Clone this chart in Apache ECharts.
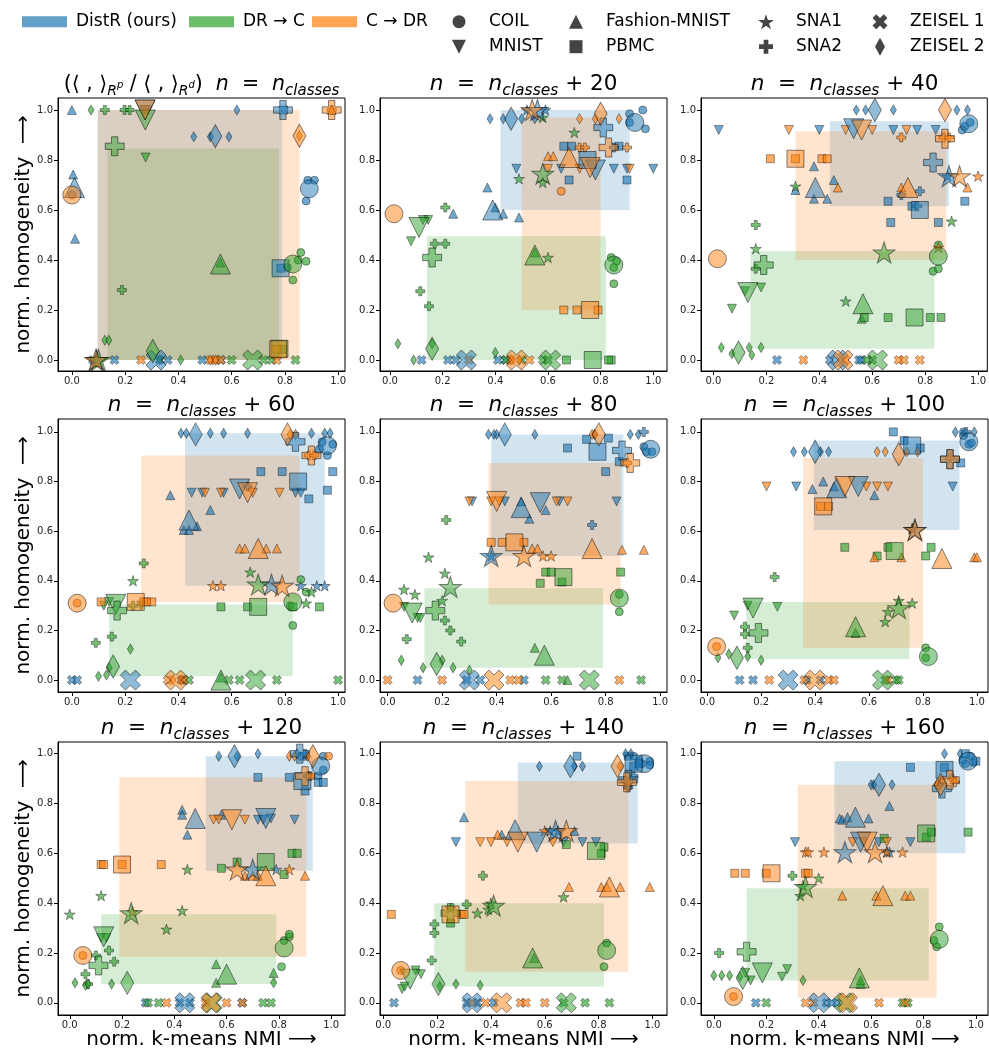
<!DOCTYPE html>
<html><head><meta charset="utf-8">
<script src="https://cdn.jsdelivr.net/npm/echarts@6/dist/echarts.min.js"></script>
<style>html,body{margin:0;padding:0;background:#fff}#c{width:989px;height:1055px}</style>
</head><body><div id="c"></div>
<script>
// ---------------- DATA ----------------
const METHODS = ['DistR (ours)', 'DR \u2192 C', 'C \u2192 DR'];
const DATASET_NAMES = {C:'COIL', M:'MNIST', F:'Fashion-MNIST', P:'PBMC', S1:'SNA1', S2:'SNA2', Z1:'ZEISEL 1', Z2:'ZEISEL 2'};
const TICKS = [0, 0.2, 0.4, 0.6, 0.8, 1.0];
const TITLE_SUFFIX = ['', '+ 20', '+ 40', '+ 60', '+ 80', '+ 100', '+ 120', '+ 140', '+ 160'];
const X_LIMITS = [[-0.052,1.026],[-0.038,1.052],[-0.047,1.035],[-0.052,1.026],[-0.028,1.025],[-0.023,1.041],[-0.045,1.053],[-0.012,1.054],[-0.049,1.046]];
const Y_LIMITS = [[-0.044,1.048],[-0.044,1.048],[-0.044,1.048],[-0.048,1.052],[-0.048,1.052],[-0.048,1.052],[-0.049,1.047],[-0.049,1.047],[-0.049,1.047]];

// rectangles [x0, x1, y0, y1] for DistR, DR->C, C->DR
const RECTS_0 = [[0.097,0.79,0.0,1.0],[0.134,0.778,0.0,0.846],[0.097,0.855,0.0,1.0]];
const RECTS_1 = [[0.42,0.91,0.60,1.0],[0.14,0.82,0.0,0.495],[0.50,0.80,0.20,0.97]];
const RECTS_2 = [[0.44,0.89,0.615,0.955],[0.14,0.835,0.045,0.435],[0.31,0.88,0.40,0.915]];
const RECTS_3 = [[0.425,0.95,0.38,0.995],[0.14,0.83,0.015,0.305],[0.26,0.855,0.315,0.905]];
const RECTS_4 = [[0.38,0.865,0.50,0.99],[0.135,0.79,0.05,0.37],[0.37,0.855,0.305,0.875]];
const RECTS_5 = [[0.395,0.935,0.605,0.965],[0.145,0.75,0.085,0.315],[0.355,0.80,0.13,0.895]];
const RECTS_6 = [[0.52,0.93,0.53,0.99],[0.12,0.79,0.075,0.355],[0.19,0.905,0.185,0.905]];
const RECTS_7 = [[0.50,0.945,0.64,0.965],[0.19,0.82,0.065,0.40],[0.305,0.91,0.125,0.89]];
const RECTS_8 = [[0.46,0.96,0.60,0.97],[0.125,0.82,0.09,0.46],[0.32,0.85,0.02,0.875]];

// points [method, dataset, x, y]
const BIG_0 = [[0,'C',0.892,0.685],[0,'F',0.01,0.69],[0,'M',0.275,1.0],[0,'P',0.784,0.367],[0,'S1',0.093,0.0],[0,'S2',0.793,1.0],[0,'Z1',0.316,0.0],[0,'Z2',0.539,0.895],
 [1,'C',0.83,0.384],[1,'F',0.558,0.384],[1,'M',0.276,0.96],[1,'P',0.78,0.045],[1,'S1',0.10,0.0],[1,'S2',0.161,0.855],[1,'Z1',0.679,0.0],[1,'Z2',0.304,0.036],
 [2,'C',0.0,0.66],[2,'M',0.275,1.0],[2,'P',0.775,0.043],[2,'S1',0.09,0.0],[2,'S2',0.976,1.0],[2,'Z2',0.855,0.897]];
const SMALL_0 = [[0,'F',0.0,1.0],[0,'F',0.005,0.742],[0,'F',0.012,0.485],[0,'C',0.886,0.719],[0,'C',0.911,0.719],[0,'C',0.880,0.636],[0,'Z2',0.458,0.893],[0,'Z2',0.52,0.893],[0,'Z2',0.59,0.893],[0,'Z2',0.62,1.0],[0,'M',0.27,1.0],[0,'M',0.285,1.0],[0,'Z1',0.08,0.0],[0,'Z1',0.16,0.0],[0,'Z1',0.33,0.0],[0,'Z1',0.36,0.0],[0,'Z1',0.49,0.0],[0,'Z1',0.56,0.0],[0,'P',0.795,1.0],[0,'P',0.785,0.367],[0,'S1',0.09,0.0],
 [1,'C',0.86,0.43],[1,'C',0.85,0.40],[1,'C',0.88,0.395],[1,'C',0.83,0.32],[1,'C',0.81,0.37],[1,'S2',0.124,1.0],[1,'S2',0.198,1.0],[1,'S2',0.217,1.0],[1,'S2',0.188,0.28],[1,'Z2',0.072,1.0],[1,'Z2',0.124,0.079],[1,'Z2',0.139,0.079],[1,'Z2',0.409,0.0],[1,'Z2',0.33,0.0],[1,'M',0.277,0.81],[1,'Z1',0.72,0.0],[1,'Z1',0.75,0.0],[1,'Z1',0.84,0.0],[1,'Z1',0.6,0.0],[1,'F',0.558,0.39],[1,'P',0.79,0.043],
 [2,'Z1',0.26,0.0],[2,'Z1',0.52,0.0],[2,'Z1',0.54,0.0],[2,'Z1',0.56,0.0],[2,'Z1',0.77,0.0],[2,'Z2',0.855,0.897],[2,'S2',0.976,1.0],[2,'P',0.77,0.043],[2,'C',0.0,0.66],[2,'Z2',0.52,0.0],[2,'Z2',0.54,0.0],[2,'M',0.275,1.0],[2,'F',0.976,1.0]];

const BIG_1 = [[0,'C',0.93,0.95],[0,'F',0.39,0.60],[0,'M',0.78,0.76],[0,'P',0.75,0.80],[0,'S1',0.56,1.0],[0,'S2',0.81,0.93],[0,'Z1',0.29,0.0],[0,'Z2',0.46,0.965],
 [1,'C',0.85,0.38],[1,'F',0.55,0.42],[1,'M',0.11,0.53],[1,'P',0.77,0.0],[1,'S1',0.58,0.745],[1,'S2',0.16,0.41],[1,'Z1',0.61,0.0],[1,'Z2',0.16,0.045],
 [2,'C',0.015,0.585],[2,'F',0.68,0.81],[2,'M',0.76,0.77],[2,'P',0.76,0.20],[2,'S1',0.54,1.0],[2,'S2',0.83,0.85],[2,'Z1',0.48,0.0],[2,'Z2',0.80,0.985]];
const SMALL_1 = [[0,'Z2',0.38,0.965],[0,'Z2',0.43,0.965],[0,'Z2',0.5,0.965],[0,'Z2',0.55,0.965],[0,'C',0.91,0.985],[0,'C',0.96,1.0],[0,'C',0.97,0.925],[0,'C',0.91,0.95],[0,'F',0.37,0.69],[0,'F',0.24,0.585],[0,'F',0.43,0.585],[0,'F',0.49,0.57],[0,'F',0.40,0.61],[0,'M',0.48,0.765],[0,'M',0.85,0.765],[0,'M',0.90,0.765],[0,'M',1.0,0.765],[0,'M',0.65,0.765],[0,'P',0.66,0.855],[0,'P',0.69,0.855],[0,'P',0.68,0.72],[0,'P',0.90,0.72],[0,'P',0.87,0.855],[0,'Z1',0.12,0],[0,'Z1',0.22,0],[0,'Z1',0.25,0],[0,'Z1',0.41,0],[0,'Z1',0.44,0],[0,'S1',0.52,1.0],[0,'S1',0.59,1.0],[0,'S2',0.85,0.85],
 [1,'C',0.84,0.41],[1,'C',0.86,0.395],[1,'C',0.85,0.305],[1,'C',0.85,0.37],[1,'M',0.08,0.475],[1,'M',0.145,0.56],[1,'M',0.125,0.56],[1,'S2',0.17,0.465],[1,'S2',0.21,0.465],[1,'S2',0.115,0.275],[1,'S2',0.148,0.215],[1,'S2',0.21,0.61],[1,'Z2',0.03,0.065],[1,'Z2',0.09,0.0],[1,'Z2',0.16,0.065],[1,'Z2',0.40,0.03],[1,'S1',0.6,0.41],[1,'S1',0.7,0.91],[1,'S1',0.58,0.71],[1,'S1',0.49,0.725],[1,'S1',0.58,0.97],[1,'P',0.67,0.0],[1,'P',0.84,0.0],[1,'P',0.83,0.0],[1,'Z1',0.58,0],[1,'Z1',0.6,0],[1,'Z1',0.44,0],[1,'Z1',0.5,0],[1,'F',0.55,0.43],
 [2,'F',0.6,0.815],[2,'F',0.62,0.815],[2,'P',0.66,0.2],[2,'P',0.71,0.2],[2,'P',0.79,0.2],[2,'Z2',0.72,0.965],[2,'Z2',0.78,0.965],[2,'Z2',0.87,0.965],[2,'S2',0.72,0.85],[2,'S2',0.74,0.85],[2,'S2',0.9,0.85],[2,'M',0.6,0.765],[2,'M',0.72,0.765],[2,'M',0.91,0.765],[2,'Z1',0.3,0],[2,'Z1',0.46,0],[2,'Z1',0.53,0],[2,'Z2',0.46,0.0],[2,'Z2',0.49,0.0],[2,'C',0.65,0.675]];

const BIG_2 = [[0,'C',0.965,0.945],[0,'F',0.385,0.69],[0,'M',0.53,0.925],[0,'P',0.78,0.60],[0,'S1',0.89,0.735],[0,'S2',0.83,0.79],[0,'Z1',0.47,0.0],[0,'Z2',0.61,1.0],
 [1,'C',0.85,0.415],[1,'F',0.565,0.225],[1,'M',0.13,0.27],[1,'P',0.76,0.17],[1,'S1',0.645,0.43],[1,'S2',0.19,0.38],[1,'Z1',0.62,0.0],[1,'Z2',0.095,0.03],
 [2,'C',0.015,0.405],[2,'F',0.735,0.69],[2,'M',0.56,0.92],[2,'P',0.31,0.805],[2,'S1',0.93,0.735],[2,'S2',0.875,0.885],[2,'Z1',0.49,0.0],[2,'Z2',0.875,1.0]];
const SMALL_2 = [[0,'Z2',0.54,1.0],[0,'Z2',0.575,1.0],[0,'Z2',0.68,1.0],[0,'Z2',0.92,1.0],[0,'Z2',0.96,1.0],[0,'M',0.02,0.92],[0,'M',0.40,0.92],[0,'M',0.68,0.92],[0,'M',0.77,0.92],[0,'M',0.84,0.92],[0,'F',0.38,0.775],[0,'F',0.455,0.72],[0,'F',0.38,0.645],[0,'F',0.43,0.645],[0,'F',0.31,0.68],[0,'P',0.66,0.635],[0,'P',0.67,0.55],[0,'P',0.75,0.615],[0,'P',0.85,0.55],[0,'P',0.95,0.635],[0,'C',0.95,0.935],[0,'C',0.94,0.92],[0,'C',0.97,0.95],[0,'S2',0.71,0.66],[0,'S2',0.78,0.675],[0,'S2',0.77,0.615],[0,'Z1',0.24,0],[0,'Z1',0.44,0],[0,'Z1',0.55,0],[0,'Z1',0.56,0],[0,'S1',0.885,0.735],
 [1,'C',0.83,0.355],[1,'C',0.85,0.365],[1,'C',0.85,0.46],[1,'M',0.07,0.205],[1,'M',0.18,0.29],[1,'M',0.12,0.275],[1,'S2',0.16,0.54],[1,'S2',0.16,0.365],[1,'Z2',0.03,0.05],[1,'Z2',0.07,0.025],[1,'Z2',0.135,0.05],[1,'Z2',0.145,0.02],[1,'Z2',0.18,0.05],[1,'S1',0.9,0.555],[1,'S1',0.16,0.445],[1,'S1',0.50,0.235],[1,'S1',0.31,0.695],[1,'F',0.56,0.165],[1,'P',0.57,0.17],[1,'P',0.66,0.17],[1,'P',0.82,0.17],[1,'P',0.86,0.17],[1,'Z1',0.58,0],[1,'Z1',0.60,0],
 [2,'P',0.215,0.805],[2,'P',0.41,0.805],[2,'P',0.43,0.805],[2,'P',0.31,0.805],[2,'M',0.285,0.92],[2,'M',0.50,0.92],[2,'M',0.60,0.92],[2,'M',0.73,0.92],[2,'F',0.47,0.69],[2,'F',0.96,0.69],[2,'F',0.71,0.69],[2,'S2',0.71,0.89],[2,'S2',0.87,0.89],[2,'S2',0.89,0.89],[2,'S1',1.0,0.735],[2,'S1',0.85,0.45],[2,'Z1',0.34,0],[2,'Z1',0.50,0],[2,'Z1',0.70,0],[2,'Z1',0.72,0],[2,'Z1',0.78,0],[2,'Z2',0.48,0.0]];

const BIG_3 = [[0,'C',0.96,0.945],[0,'F',0.44,0.645],[0,'M',0.63,0.77],[0,'P',0.85,0.80],[0,'S1',0.75,0.385],[0,'S2',0.84,0.96],[0,'Z1',0.22,0.0],[0,'Z2',0.465,0.99],
 [1,'C',0.83,0.315],[1,'F',0.56,0.0],[1,'M',0.165,0.305],[1,'P',0.70,0.295],[1,'S1',0.70,0.385],[1,'S2',0.17,0.28],[1,'Z1',0.69,0.0],[1,'Z2',0.155,0.055],
 [2,'C',0.02,0.31],[2,'F',0.70,0.53],[2,'M',0.66,0.755],[2,'P',0.24,0.315],[2,'S1',0.79,0.38],[2,'S2',0.90,0.905],[2,'Z1',0.39,0.0],[2,'Z2',0.81,0.99]];
const SMALL_3 = [[0,'Z2',0.41,0.995],[0,'Z2',0.43,0.995],[0,'Z2',0.52,0.995],[0,'Z2',0.57,0.995],[0,'Z2',0.66,0.995],[0,'Z2',0.90,0.995],[0,'Z2',0.95,0.995],[0,'Z2',0.97,0.995],[0,'P',0.71,0.84],[0,'P',0.79,0.84],[0,'P',0.98,0.84],[0,'P',0.89,0.73],[0,'P',0.96,0.765],[0,'M',0.45,0.755],[0,'M',0.49,0.755],[0,'M',0.57,0.755],[0,'M',0.84,0.755],[0,'M',0.86,0.755],[0,'F',0.52,0.685],[0,'F',0.47,0.62],[0,'F',0.42,0.605],[0,'F',0.37,0.745],[0,'F',0.44,0.605],[0,'C',0.93,0.93],[0,'C',0.96,0.905],[0,'C',0.98,0.95],[0,'C',0.94,0.96],[0,'Z1',0.0,0],[0,'Z1',0.02,0],[0,'Z1',0.41,0],[0,'Z1',0.42,0],[0,'S1',0.86,0.38],[0,'S1',0.95,0.38],[0,'S1',0.92,0.38],[0,'S2',0.66,0.78],
 [1,'C',0.86,0.405],[1,'C',0.88,0.355],[1,'C',0.83,0.22],[1,'C',0.82,0.30],[1,'P',0.56,0.295],[1,'P',0.66,0.295],[1,'P',0.83,0.295],[1,'P',0.93,0.295],[1,'M',0.12,0.30],[1,'M',0.26,0.30],[1,'M',0.14,0.315],[1,'S2',0.09,0.15],[1,'S2',0.15,0.175],[1,'S2',0.23,0.30],[1,'S2',0.27,0.47],[1,'Z2',0.10,0.015],[1,'Z2',0.13,0.02],[1,'Z2',0.14,0.05],[1,'Z2',0.22,0.125],[1,'S1',0.23,0.40],[1,'S1',0.67,0.435],[1,'S1',0.88,0.31],[1,'S1',0.90,0.355],[1,'Z1',0.44,0],[1,'Z1',0.59,0],[1,'Z1',0.63,0],[1,'Z1',0.77,0],[1,'Z1',1.0,0],[1,'F',0.56,0.01],
 [2,'P',0.11,0.315],[2,'P',0.27,0.315],[2,'P',0.30,0.315],[2,'P',0.28,0.315],[2,'F',0.63,0.53],[2,'F',0.65,0.53],[2,'F',0.73,0.53],[2,'F',0.77,0.53],[2,'M',0.50,0.755],[2,'M',0.56,0.755],[2,'M',0.68,0.755],[2,'M',0.78,0.755],[2,'S2',0.89,0.905],[2,'S2',0.91,0.905],[2,'Z2',0.82,0.99],[2,'Z2',0.84,0.99],[2,'Z2',0.38,0.0],[2,'Z2',0.41,0.0],[2,'S1',0.53,0.38],[2,'S1',0.56,0.38],[2,'Z1',0.36,0],[2,'Z1',0.42,0],[2,'C',0.02,0.31]];

const BIG_4 = [[0,'C',0.965,0.93],[0,'F',0.49,0.695],[0,'M',0.56,0.715],[0,'P',0.77,0.92],[0,'S1',0.38,0.50],[0,'S2',0.86,0.925],[0,'Z1',0.30,0.0],[0,'Z2',0.43,0.99],
 [1,'C',0.85,0.33],[1,'F',0.575,0.10],[1,'M',0.09,0.27],[1,'P',0.645,0.415],[1,'S1',0.23,0.375],[1,'S2',0.175,0.28],[1,'Z1',0.74,0.0],[1,'Z2',0.18,0.065],
 [2,'C',0.02,0.31],[2,'F',0.75,0.53],[2,'M',0.40,0.72],[2,'P',0.465,0.555],[2,'S1',0.50,0.50],[2,'S2',0.89,0.875],[2,'Z1',0.39,0.0],[2,'Z2',0.775,0.99]];
const SMALL_4 = [[0,'Z2',0.37,0.99],[0,'Z2',0.39,0.99],[0,'Z2',0.40,0.99],[0,'Z2',0.54,0.99],[0,'Z2',0.76,0.99],[0,'Z2',0.89,0.99],[0,'Z2',0.92,0.99],[0,'P',0.66,0.935],[0,'P',0.73,0.97],[0,'P',0.81,0.975],[0,'P',0.85,0.88],[0,'P',0.80,0.84],[0,'C',0.94,0.94],[0,'C',0.95,0.92],[0,'C',0.97,0.92],[0,'M',0.31,0.72],[0,'M',0.43,0.72],[0,'M',0.63,0.72],[0,'M',0.84,0.72],[0,'F',0.52,0.65],[0,'F',0.58,0.685],[0,'F',0.49,0.72],[0,'S2',0.75,0.625],[0,'Z1',0.11,0],[0,'Z1',0.29,0],[0,'Z1',0.34,0],[0,'Z1',0.50,0],[0,'S1',0.38,0.50],[0,'S2',0.94,1.0],
 [1,'P',0.56,0.39],[1,'P',0.58,0.435],[1,'P',0.60,0.435],[1,'P',0.64,0.395],[1,'P',0.855,0.435],[1,'C',0.85,0.275],[1,'C',0.85,0.345],[1,'S2',0.07,0.165],[1,'S2',0.21,0.24],[1,'S2',0.215,0.645],[1,'S2',0.23,0.20],[1,'S2',0.27,0.155],[1,'Z2',0.05,0.08],[1,'Z2',0.13,0.05],[1,'Z2',0.20,0.08],[1,'Z2',0.24,0.05],[1,'Z2',0.30,0.04],[1,'S1',0.06,0.365],[1,'S1',0.10,0.345],[1,'S1',0.15,0.495],[1,'S1',0.21,0.43],[1,'S1',0.20,0.32],[1,'M',0.06,0.295],[1,'M',0.11,0.25],[1,'M',0.12,0.25],[1,'F',0.54,0.13],[1,'F',0.66,0.0],[1,'Z1',0.58,0],[1,'Z1',0.64,0],[1,'Z1',0.93,0],
 [2,'P',0.38,0.555],[2,'P',0.42,0.555],[2,'P',0.50,0.555],[2,'F',0.53,0.53],[2,'F',0.55,0.53],[2,'F',0.86,0.525],[2,'F',0.94,0.525],[2,'M',0.30,0.72],[2,'M',0.38,0.72],[2,'M',0.41,0.72],[2,'M',0.62,0.72],[2,'M',0.66,0.72],[2,'S1',0.57,0.50],[2,'S1',0.60,0.50],[2,'Z2',0.75,0.99],[2,'Z2',0.76,0.99],[2,'Z1',0.0,0],[2,'Z1',0.20,0],[2,'Z1',0.45,0],[2,'Z1',0.48,0],[2,'Z1',0.85,0],[2,'S2',0.88,0.875]];

const BIG_5 = [[0,'C',0.97,0.96],[0,'F',0.48,0.775],[0,'M',0.56,0.78],[0,'P',0.76,0.945],[0,'S1',0.77,0.605],[0,'S2',0.90,0.89],[0,'Z1',0.30,0.0],[0,'Z2',0.40,0.92],
 [1,'C',0.82,0.095],[1,'F',0.55,0.215],[1,'M',0.17,0.29],[1,'P',0.695,0.52],[1,'S1',0.71,0.29],[1,'S2',0.19,0.19],[1,'Z1',0.65,0.0],[1,'Z2',0.11,0.09],
 [2,'C',0.035,0.135],[2,'F',0.87,0.49],[2,'M',0.51,0.78],[2,'P',0.43,0.70],[2,'S1',0.77,0.605],[2,'S2',0.90,0.89],[2,'Z1',0.40,0.0],[2,'Z2',0.71,0.91]];
const SMALL_5 = [[0,'C',0.95,0.985],[0,'C',0.97,0.95],[0,'C',0.98,0.955],[0,'C',0.95,1.0],[0,'Z2',0.32,0.92],[0,'Z2',0.36,0.92],[0,'Z2',0.42,0.92],[0,'Z2',0.45,0.92],[0,'Z2',0.92,1.0],[0,'Z2',0.99,1.0],[0,'P',0.69,1.0],[0,'P',0.73,0.965],[0,'P',0.79,0.935],[0,'P',0.94,0.875],[0,'M',0.33,0.78],[0,'M',0.91,0.78],[0,'F',0.39,0.77],[0,'F',0.43,0.80],[0,'F',0.62,0.745],[0,'F',0.47,0.78],[0,'Z1',0.12,0],[0,'Z1',0.17,0],[0,'Z1',0.37,0],[0,'Z1',0.42,0],[0,'S2',0.96,1.0],[0,'S1',0.76,0.61],
 [1,'P',0.51,0.535],[1,'P',0.67,0.535],[1,'P',0.83,0.535],[1,'P',0.81,0.50],[1,'P',0.63,0.50],[1,'C',0.81,0.13],[1,'C',0.81,0.09],[1,'M',0.10,0.26],[1,'M',0.15,0.30],[1,'M',0.26,0.295],[1,'S2',0.14,0.215],[1,'S2',0.14,0.185],[1,'S2',0.15,0.13],[1,'S2',0.25,0.415],[1,'Z2',0.04,0.09],[1,'Z2',0.08,0.105],[1,'Z2',0.15,0.095],[1,'Z2',0.20,0.08],[1,'S1',0.66,0.235],[1,'S1',0.67,0.275],[1,'S1',0.71,0.32],[1,'S1',0.76,0.31],[1,'F',0.55,0.19],[1,'Z1',0.66,0],[1,'Z1',0.70,0],[1,'Z1',0.71,0],
 [2,'P',0.42,0.70],[2,'P',0.45,0.70],[2,'F',0.62,0.495],[2,'F',0.72,0.495],[2,'F',0.99,0.495],[2,'F',1.0,0.495],[2,'M',0.22,0.78],[2,'M',0.59,0.78],[2,'M',0.63,0.78],[2,'M',0.67,0.78],[2,'Z2',0.63,0.92],[2,'Z2',0.66,0.92],[2,'Z2',0.74,0.92],[2,'Z2',0.78,0.92],[2,'S1',0.76,0.61],[2,'Z1',0.23,0],[2,'Z1',0.36,0],[2,'Z1',0.45,0],[2,'Z1',0.47,0],[2,'Z1',0.67,0],[2,'S2',0.90,0.895],[2,'C',0.035,0.135]];

const BIG_6 = [[0,'C',0.96,0.95],[0,'F',0.48,0.74],[0,'M',0.75,0.74],[0,'P',0.89,0.89],[0,'S1',0.70,0.535],[0,'S2',0.88,1.0],[0,'Z1',0.44,0.0],[0,'Z2',0.63,0.99],
 [1,'C',0.82,0.22],[1,'F',0.60,0.115],[1,'M',0.13,0.265],[1,'P',0.75,0.565],[1,'S1',0.235,0.36],[1,'S2',0.11,0.15],[1,'Z1',0.545,0.0],[1,'Z2',0.22,0.08],
 [2,'C',0.05,0.19],[2,'F',0.75,0.51],[2,'M',0.62,0.735],[2,'P',0.20,0.555],[2,'S1',0.64,0.535],[2,'S2',0.90,0.91],[2,'Z1',0.54,0.0],[2,'Z2',0.93,0.99]];
const SMALL_6 = [[0,'Z2',0.57,0.99],[0,'Z2',0.64,0.99],[0,'Z2',0.72,1.0],[0,'Z2',0.87,1.0],[0,'C',0.95,0.91],[0,'C',0.97,0.935],[0,'C',0.97,0.99],[0,'P',0.72,0.905],[0,'P',0.84,0.905],[0,'P',0.90,0.85],[0,'P',0.95,0.885],[0,'P',0.97,0.885],[0,'P',0.89,0.99],[0,'M',0.72,0.735],[0,'M',0.74,0.735],[0,'M',0.86,0.735],[0,'M',0.77,0.74],[0,'F',0.43,0.775],[0,'F',0.43,0.755],[0,'F',0.45,0.675],[0,'F',0.58,0.755],[0,'Z1',0.29,0],[0,'Z1',0.42,0],[0,'Z1',0.46,0],[0,'Z1',0.66,0],[0,'S1',0.79,0.535],[0,'S2',0.90,1.0],
 [1,'C',0.81,0.145],[1,'C',0.82,0.25],[1,'C',0.84,0.265],[1,'C',0.84,0.275],[1,'P',0.58,0.54],[1,'P',0.64,0.565],[1,'P',0.82,0.515],[1,'P',0.85,0.60],[1,'P',0.87,0.60],[1,'M',0.12,0.26],[1,'M',0.14,0.26],[1,'S2',0.10,0.19],[1,'S2',0.06,0.115],[1,'S2',0.15,0.21],[1,'S2',0.17,0.165],[1,'S2',0.07,0.075],[1,'Z2',0.02,0.08],[1,'Z2',0.06,0.07],[1,'Z2',0.07,0.075],[1,'Z2',0.16,0.075],[1,'Z2',0.78,0.08],[1,'S1',0.0,0.355],[1,'S1',0.12,0.43],[1,'S1',0.37,0.295],[1,'S1',0.43,0.37],[1,'S1',0.45,0.535],[1,'F',0.56,0.155],[1,'F',0.56,0.08],[1,'F',0.78,0.12],[1,'Z1',0.30,0],[1,'Z1',0.34,0],[1,'Z1',0.74,0],[1,'Z1',0.77,0],
 [2,'P',0.12,0.555],[2,'P',0.13,0.555],[2,'P',0.20,0.555],[2,'P',0.35,0.555],[2,'F',0.67,0.51],[2,'F',0.70,0.51],[2,'F',0.72,0.51],[2,'F',0.90,0.51],[2,'M',0.55,0.735],[2,'M',0.57,0.735],[2,'M',0.67,0.735],[2,'Z2',0.84,0.99],[2,'Z2',0.86,0.99],[2,'Z2',0.91,0.99],[2,'C',0.99,0.99],[2,'S2',0.91,0.91],[2,'S2',0.92,0.91],[2,'S1',0.24,0.365],[2,'S1',0.84,0.535],[2,'Z1',0.37,0],[2,'Z1',0.52,0],[2,'Z1',0.60,0],[2,'Z1',0.66,0],[2,'C',0.05,0.19]];

const BIG_7 = [[0,'C',0.97,0.96],[0,'F',0.49,0.695],[0,'M',0.57,0.645],[0,'P',0.93,0.96],[0,'S1',0.64,0.69],[0,'S2',0.91,0.895],[0,'Z1',0.33,0.0],[0,'Z2',0.695,0.95],
 [1,'C',0.83,0.21],[1,'F',0.555,0.18],[1,'M',0.10,0.095],[1,'P',0.79,0.61],[1,'S1',0.41,0.39],[1,'S2',0.25,0.36],[1,'Z1',0.68,0.0],[1,'Z2',0.205,0.075],
 [2,'C',0.065,0.13],[2,'F',0.84,0.465],[2,'M',0.50,0.645],[2,'P',0.25,0.355],[2,'S1',0.68,0.69],[2,'S2',0.905,0.885],[2,'Z1',0.44,0.0],[2,'Z2',0.87,0.95]];
const SMALL_7 = [[0,'C',0.93,0.99],[0,'C',0.96,0.96],[0,'C',0.99,0.97],[0,'C',0.99,0.955],[0,'C',0.95,0.97],[0,'P',0.72,0.99],[0,'P',0.93,0.95],[0,'P',0.95,0.96],[0,'P',0.91,0.99],[0,'Z2',0.58,0.95],[0,'Z2',0.71,0.95],[0,'Z2',0.74,0.95],[0,'Z2',0.90,1.0],[0,'Z2',0.92,1.0],[0,'S2',0.91,0.865],[0,'S2',0.93,0.91],[0,'F',0.30,0.745],[0,'F',0.44,0.675],[0,'F',0.71,0.69],[0,'M',0.27,0.645],[0,'M',0.67,0.645],[0,'M',0.74,0.645],[0,'M',0.79,0.645],[0,'Z1',0.04,0],[0,'Z1',0.31,0],[0,'Z1',0.35,0],[0,'Z1',0.41,0],[0,'S1',0.62,0.69],[0,'S1',0.65,0.69],
 [1,'C',0.83,0.24],[1,'C',0.82,0.145],[1,'P',0.25,0.32],[1,'P',0.68,0.635],[1,'P',0.82,0.625],[1,'P',0.81,0.60],[1,'M',0.07,0.055],[1,'M',0.08,0.065],[1,'M',0.12,0.13],[1,'M',0.14,0.115],[1,'S2',0.19,0.28],[1,'S2',0.19,0.315],[1,'S2',0.18,0.17],[1,'S2',0.37,0.51],[1,'S2',0.31,0.395],[1,'Z2',0.21,0.065],[1,'Z2',0.27,0.075],[1,'Z2',0.36,0.07],[1,'S1',0.25,0.38],[1,'S1',0.35,0.36],[1,'S1',0.39,0.375],[1,'S1',0.40,0.40],[1,'S1',0.67,0.425],[1,'Z1',0.67,0],[1,'Z1',0.75,0],[1,'Z1',0.84,0],[1,'F',0.56,0.18],
 [2,'P',0.03,0.355],[2,'P',0.29,0.355],[2,'P',0.30,0.355],[2,'F',0.69,0.465],[2,'F',0.81,0.465],[2,'F',0.83,0.465],[2,'F',0.88,0.465],[2,'F',0.99,0.465],[2,'F',0.425,0.675],[2,'M',0.36,0.645],[2,'M',0.40,0.645],[2,'M',0.46,0.645],[2,'M',0.63,0.645],[2,'S2',0.90,0.89],[2,'S2',0.91,0.885],[2,'Z2',0.88,0.95],[2,'Z1',0.33,0],[2,'Z1',0.38,0],[2,'Z1',0.51,0],[2,'Z1',0.53,0],[2,'Z1',0.60,0],[2,'S1',0.60,0.69],[2,'C',0.065,0.13]];

const BIG_8 = [[0,'C',0.97,0.97],[0,'F',0.54,0.745],[0,'M',0.56,0.645],[0,'P',0.88,0.935],[0,'S1',0.50,0.605],[0,'S2',0.87,0.86],[0,'Z1',0.40,0.0],[0,'Z2',0.63,0.875],
 [1,'C',0.86,0.255],[1,'F',0.555,0.10],[1,'M',0.185,0.12],[1,'P',0.81,0.68],[1,'S1',0.35,0.465],[1,'S2',0.125,0.205],[1,'Z1',0.50,0.0],[1,'Z2',0.11,0.10],
 [2,'C',0.075,0.025],[2,'F',0.645,0.43],[2,'M',0.585,0.645],[2,'P',0.22,0.52],[2,'S1',0.615,0.605],[2,'S2',0.90,0.895],[2,'Z1',0.51,0.0],[2,'Z2',0.865,0.875]];
const SMALL_8 = [[0,'C',0.96,0.96],[0,'C',0.98,0.99],[0,'C',0.95,0.975],[0,'C',0.99,0.965],[0,'Z2',0.94,1.0],[0,'Z2',0.88,1.0],[0,'Z2',0.60,0.875],[0,'Z2',0.61,0.875],[0,'Z2',0.68,0.875],[0,'P',0.75,0.945],[0,'P',0.88,0.945],[0,'P',1.0,0.97],[0,'P',0.96,1.0],[0,'F',0.48,0.74],[0,'F',0.49,0.735],[0,'F',0.51,0.745],[0,'F',0.59,0.74],[0,'F',0.67,0.79],[0,'M',0.31,0.645],[0,'M',0.75,0.645],[0,'M',0.63,0.645],[0,'S1',0.66,0.605],[0,'S1',0.67,0.605],[0,'Z1',0.16,0],[0,'Z1',0.43,0],[0,'Z1',0.45,0],[0,'Z1',0.47,0],[0,'S2',0.86,0.875],
 [1,'C',0.86,0.305],[1,'C',0.85,0.225],[1,'C',0.84,0.25],[1,'P',0.81,0.665],[1,'P',0.83,0.685],[1,'P',0.97,0.685],[1,'P',0.65,0.66],[1,'M',0.26,0.105],[1,'M',0.28,0.135],[1,'M',0.14,0.09],[1,'M',0.12,0.12],[1,'S2',0.02,0.20],[1,'S2',0.30,0.51],[1,'Z2',0.0,0.11],[1,'Z2',0.03,0.11],[1,'Z2',0.06,0.11],[1,'Z2',0.10,0.105],[1,'Z2',0.34,0.09],[1,'S1',0.34,0.47],[1,'S1',0.33,0.43],[1,'S1',0.40,0.50],[1,'F',0.56,0.075],[1,'F',0.56,0.09],[1,'Z1',0.20,0],[1,'Z1',0.72,0],[1,'Z1',0.74,0],
 [2,'P',0.08,0.52],[2,'P',0.12,0.52],[2,'P',0.20,0.52],[2,'P',0.35,0.52],[2,'P',0.36,0.52],[2,'F',0.49,0.43],[2,'F',0.62,0.43],[2,'F',0.73,0.43],[2,'F',0.75,0.43],[2,'M',0.53,0.645],[2,'M',0.57,0.645],[2,'M',0.66,0.645],[2,'S1',0.35,0.605],[2,'S1',0.36,0.605],[2,'S1',0.42,0.605],[2,'S1',0.66,0.605],[2,'S1',0.72,0.605],[2,'Z2',0.85,0.875],[2,'Z2',0.86,0.87],[2,'S2',0.91,0.90],[2,'S2',0.92,0.885],[2,'Z1',0.35,0],[2,'Z1',0.38,0],[2,'Z1',0.63,0],[2,'Z1',0.73,0],[2,'C',0.075,0.025]];

const RECTS = [RECTS_0,RECTS_1,RECTS_2,RECTS_3,RECTS_4,RECTS_5,RECTS_6,RECTS_7,RECTS_8];
const BIGS = [BIG_0,BIG_1,BIG_2,BIG_3,BIG_4,BIG_5,BIG_6,BIG_7,BIG_8];
const SMALLS = [SMALL_0,SMALL_1,SMALL_2,SMALL_3,SMALL_4,SMALL_5,SMALL_6,SMALL_7,SMALL_8];

// ---------------- STYLE ----------------
const RGB = ['31,119,180','44,160,44','255,127,14'];
const FONT = '"DejaVu Sans", sans-serif';
const STAR = 'path://M50,0L61.23,34.55L97.55,34.55L68.17,55.9L79.39,90.45L50,69.1L20.61,90.45L31.83,55.9L2.45,34.55L38.77,34.55Z';
const PLUS = 'path://M2,0L4,0L4,2L6,2L6,4L4,4L4,6L2,6L2,4L0,4L0,2L2,2Z';
const XSYM = 'path://M6,0L8,2L6,4L8,6L6,8L4,6L2,8L0,6L2,4L0,2L2,0L4,2Z';
const SYMBOL = {C:'circle', M:'path://M0,0L2,0L1,2Z', F:'triangle', P:'rect', S1:STAR, S2:PLUS, Z1:XSYM, Z2:'diamond'};
const SIZE_SMALL = {C:8, M:[9,9], F:[9,9], P:8, S1:[11,10.5], S2:9, Z1:9, Z2:[6,10]};
const SIZE_BIG = {C:18, M:[20,20], F:[20,20], P:17, S1:[22,21], S2:19, Z1:20, Z2:[13,23]};
const COL_LEFT = [58, 380, 701], ROW_TOP = [98, 419, 742], GW = 287, GH = 273;

const grids = [], xAxes = [], yAxes = [], series = [], graphics = [];
const measure = (() => { const c = document.createElement('canvas').getContext('2d'); return (t, f) => { c.font = f; return c.measureText(t).width; }; })();

function mathText(cx, baseline, segs) {
  const fonts = segs.map(s => (s[2] ? 'italic ' : '') + s[1] + 'px ' + FONT);
  const widths = segs.map((s, k) => measure(s[0], fonts[k]));
  let x = cx - widths.reduce((a, b) => a + b, 0) / 2;
  segs.forEach((s, k) => {
    graphics.push({type:'text', x: x, y: baseline + (s[3] || 0) - 0.346 * s[1], silent:true,
      style:{text:s[0], font:fonts[k], fill:'#000', textAlign:'left', textVerticalAlign:'middle', verticalAlign:'middle'}});
    x += widths[k];
  });
}

for (let i = 0; i < 9; i++) {
  const r = Math.floor(i / 3), c = i % 3;
  grids.push({left: COL_LEFT[c], top: ROW_TOP[r], width: GW, height: GH, show: true, borderColor:'#000', borderWidth:1, backgroundColor:'transparent'});
  const common = (lim) => ({gridIndex:i, type:'value', min: lim[0], max: lim[1],
    axisLine:{show:true, onZero:false, lineStyle:{color:'#000', width:1}},
    splitLine:{show:false},
    axisTick:{show:true, inside:false, length:4, customValues: TICKS, lineStyle:{color:'#000', width:1}},
    axisLabel:{show:true, customValues: TICKS, formatter: v => Number(v).toFixed(1), fontSize:10, color:'#222', fontFamily:FONT, margin:5}});
  xAxes.push(common(X_LIMITS[i]));
  yAxes.push(common(Y_LIMITS[i]));

  series.push({type:'custom', xAxisIndex:i, yAxisIndex:i, z:1, silent:true, clip:false,
    data: RECTS[i].map((q, m) => [q[0], q[1], q[2], q[3], m]),
    encode:{x:[0,1], y:[2,3]},
    renderItem: (params, api) => {
      const p0 = api.coord([api.value(0), api.value(3)]);
      const p1 = api.coord([api.value(1), api.value(2)]);
      return {type:'rect', shape:{x:p0[0], y:p0[1], width:p1[0]-p0[0], height:p1[1]-p0[1]},
        style:{fill:'rgba(' + RGB[api.value(4)] + ',0.2)'}};
    }});
  [[SMALLS[i], SIZE_SMALL, 0.8, 2, 0.8], [BIGS[i], SIZE_BIG, 0.62, 3, 1]].forEach(([list, sizes, alpha, z, bw]) => {
    for (let m = 0; m < 3; m++) {
      series.push({type:'scatter', xAxisIndex:i, yAxisIndex:i, z: z, silent:true, clip:false, symbolKeepAspect:false,
        itemStyle:{color:'rgba(' + RGB[m] + ',' + alpha + ')', borderColor:'rgba(0,0,0,0.6)', borderWidth:bw},
        data: list.filter(p => p[0] === m).map(p => ({value:[p[2], p[3]], symbol: SYMBOL[p[1]], symbolSize: sizes[p[1]]}))});
    }
  });

  // titles
  const cx = COL_LEFT[c] + GW / 2, base = ROW_TOP[r] - 6;
  if (i === 0) {
    mathText(cx, base, [['(\u27E8 , \u27E9', 20.5, false], ['R', 14, true, 4], ['p', 10, true, -3], [' / \u27E8 , \u27E9', 20.5, false], ['R', 14, true, 4], ['d', 10, true, -3], [')  ', 20.5, false], ['n', 20.5, true], ['  =  ', 20.5, false], ['n', 20.5, true], ['classes', 15, true, 4]]);
  } else {
    mathText(cx, base, [['n', 21.5, true], ['  =  ', 21.5, false], ['n', 21.5, true], ['classes', 15.5, true, 4], [' ' + TITLE_SUFFIX[i], 21.5, false]]);
  }
}

// axis titles
for (let r = 0; r < 3; r++) {
  graphics.push({type:'text', x:24, y: ROW_TOP[r] + GH / 2, rotation: Math.PI / 2, silent:true,
    style:{text:'norm. homogeneity  \u27F6', font:'20px ' + FONT, fill:'#000', textAlign:'center', textVerticalAlign:'middle', verticalAlign:'middle'}});
}
for (let c = 0; c < 3; c++) {
  graphics.push({type:'text', x: COL_LEFT[c] + GW / 2, y: 1040, silent:true,
    style:{text:'norm. k-means NMI \u27F6', font:'20px ' + FONT, fill:'#000', textAlign:'center', textVerticalAlign:'middle', verticalAlign:'middle'}});
}

// legend
const LEG_Y = [21.7, 46.7];
const METHOD_PATCH_X = [22, 189, 312];
METHODS.forEach((name, m) => {
  graphics.push({type:'rect', shape:{x: METHOD_PATCH_X[m], y: LEG_Y[0] - 5.5, width: 45, height: 11}, style:{fill:'rgba(' + RGB[m] + ',0.7)'}, silent:true});
  graphics.push({type:'text', x: METHOD_PATCH_X[m] + 54, y: LEG_Y[0], silent:true,
    style:{text:name, font:'17px ' + FONT, fill:'#000', textAlign:'left', textVerticalAlign:'middle', verticalAlign:'middle'}});
});
function unitPoly(pts, cx, cy, w, h) {
  let minx = Infinity, maxx = -Infinity, miny = Infinity, maxy = -Infinity;
  pts.forEach(p => { minx = Math.min(minx, p[0]); maxx = Math.max(maxx, p[0]); miny = Math.min(miny, p[1]); maxy = Math.max(maxy, p[1]); });
  return pts.map(p => [cx - w / 2 + (p[0] - minx) / (maxx - minx) * w, cy - h / 2 + (p[1] - miny) / (maxy - miny) * h]);
}
const LEG_SHAPES = {
  C: null,
  M: [[0,0],[2,0],[1,2]],
  F: [[1,0],[2,2],[0,2]],
  P: [[0,0],[1,0],[1,1],[0,1]],
  S1: [[50,0],[61.23,34.55],[97.55,34.55],[68.17,55.9],[79.39,90.45],[50,69.1],[20.61,90.45],[31.83,55.9],[2.45,34.55],[38.77,34.55]],
  S2: [[2,0],[4,0],[4,2],[6,2],[6,4],[4,4],[4,6],[2,6],[2,4],[0,4],[0,2],[2,2]],
  Z1: [[6,0],[8,2],[6,4],[8,6],[6,8],[4,6],[2,8],[0,6],[2,4],[0,2],[2,0],[4,2]],
  Z2: [[1,0],[2,1],[1,2],[0,1]]
};
const LEG_SIZE = {C:[13,13], M:[14,14], F:[14,14], P:[13,13], S1:[16,15], S2:[14,14], Z1:[15,15], Z2:[10,18]};
const LEG_LAYOUT = [['C',459,0],['F',576,0],['S1',766,0],['Z1',880,0],['M',459,1],['P',576,1],['S2',766,1],['Z2',880,1]];
LEG_LAYOUT.forEach(([ds, x, row]) => {
  const y = LEG_Y[row], sz = LEG_SIZE[ds];
  if (ds === 'C') graphics.push({type:'circle', shape:{cx:x, cy:y, r:sz[0] / 2}, style:{fill:'#444'}, silent:true});
  else graphics.push({type:'polygon', shape:{points: unitPoly(LEG_SHAPES[ds], x, y, sz[0], sz[1])}, style:{fill:'#444'}, silent:true});
  graphics.push({type:'text', x: x + 30, y: y, silent:true,
    style:{text: DATASET_NAMES[ds], font:'17px ' + FONT, fill:'#000', textAlign:'left', textVerticalAlign:'middle', verticalAlign:'middle'}});
});

const chart = echarts.init(document.getElementById('c'), null, {renderer:'canvas'});
chart.setOption({animation:false, backgroundColor:'#fff', grid:grids, xAxis:xAxes, yAxis:yAxes, series:series, graphic:graphics});
</script></body></html>
